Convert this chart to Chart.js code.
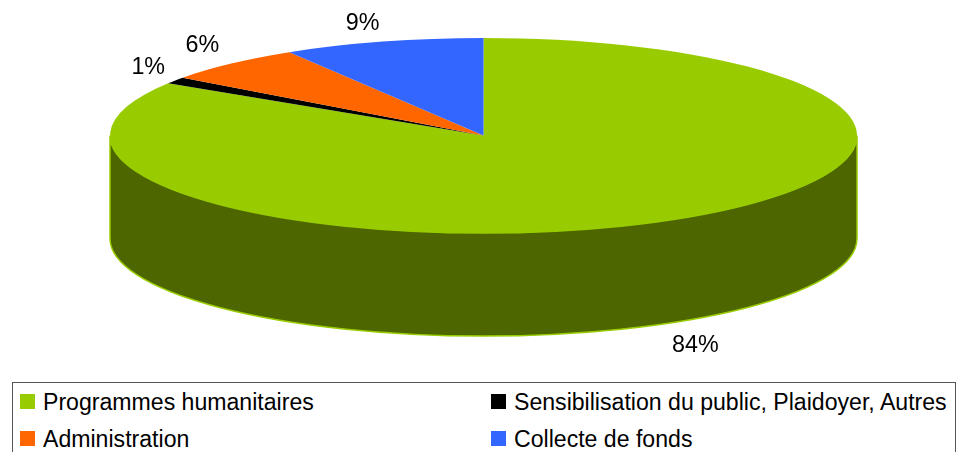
<!DOCTYPE html>
<html>
<head>
<meta charset="utf-8">
<script src="https://cdn.jsdelivr.net/npm/chart.js@4"></script>
<style>
    html, body { margin: 0; padding: 0; width: 959px; height: 452px; overflow: hidden; background: #fff; }
    #wrap { position: absolute; left: 0; top: 0; width: 959px; height: 380px; }
    #legend {
        position: absolute; left: 12px; top: 382px; width: 944px; height: 80px;
        border: 1px solid #555; box-sizing: border-box;
        font: 23.1px "Liberation Sans", Arial, sans-serif; color: #000;
    }
    #legend .item { position: absolute; white-space: nowrap; line-height: 26px; }
    #legend .box { display: inline-block; width: 15px; height: 15px; position: absolute; left: 0; top: 6px; }
    #legend .txt { position: absolute; left: 23px; top: 1px; }
</style>
</head>
<body>
<div id="wrap"><canvas id="pie"></canvas></div>
<div id="legend"></div>
<script>
// Data
const categories = ['Programmes humanitaires', 'Sensibilisation du public, Plaidoyer, Autres', 'Administration', 'Collecte de fonds'];
const shares = [84, 1.1, 6.2, 8.7];
const sliceColors = ['#99cc00', '#000000', '#ff6600', '#3366ff'];
const wallColors = ['#4d6600', '#000000', '#803300', '#1a3380'];

// Tilted pie geometry, in pixels
const RX = 373.5, RY = 97.5, CY = 135.5, DEPTH = 103;
const SQUASH = RY / RX;
// label offset from the rim point of each slice
const labelOffsets = [[32, 125], [-27, -13], [-29, -18], [-20, -18]];

function drawWalls(ctx, arcs) {
    arcs.forEach((arc, i) => {
        const a0 = Math.max(arc.startAngle, 0);
        const a1 = Math.min(arc.endAngle, Math.PI);
        if (a1 <= a0) return;
        ctx.beginPath();
        ctx.ellipse(arc.x, CY, RX, RY, 0, a0, a1);
        ctx.ellipse(arc.x, CY + DEPTH, RX, RY, 0, a1, a0, true);
        ctx.closePath();
        ctx.fillStyle = wallColors[i];
        ctx.fill();
        ctx.strokeStyle = sliceColors[i];
        ctx.lineWidth = 1.5;
        ctx.stroke();
    });
}

// Chart.js only draws round pies, so squash the drawing and add the side wall
const tiltPlugin = {
    id: 'tilt',
    beforeDatasetsDraw(chart) {
        const ctx = chart.ctx;
        const arcs = chart.getDatasetMeta(0).data;
        drawWalls(ctx, arcs);
        ctx.save();
        ctx.translate(0, CY);
        ctx.scale(1, SQUASH);
        ctx.translate(0, -arcs[0].y);
    },
    afterDatasetsDraw(chart) {
        const ctx = chart.ctx;
        ctx.restore();
        ctx.fillStyle = '#000';
        ctx.font = '23.3px "Liberation Sans", Arial, sans-serif';
        ctx.textAlign = 'center';
        ctx.textBaseline = 'middle';
        chart.getDatasetMeta(0).data.forEach((arc, i) => {
            const mid = (arc.startAngle + arc.endAngle) / 2;
            const x = arc.x + Math.cos(mid) * RX + labelOffsets[i][0];
            const y = CY + Math.sin(mid) * RY + labelOffsets[i][1];
            ctx.fillText(Math.round(shares[i]) + '%', x, y);
        });
    }
};

new Chart(document.getElementById('pie'), {
    type: 'pie',
    data: {
        labels: categories,
        datasets: [{
            data: shares,
            backgroundColor: sliceColors,
            borderWidth: 0,
            radius: RX,
            clip: false
        }]
    },
    options: {
        responsive: true,
        maintainAspectRatio: false,
        animation: false,
        events: [],
        layout: { padding: { left: 8 } },
        plugins: { legend: { display: false }, tooltip: { enabled: false } }
    },
    plugins: [tiltPlugin]
});

// --- Legend: two columns, filled row by row ---
const legend = document.getElementById('legend');
categories.forEach((name, i) => {
    const item = document.createElement('div');
    item.className = 'item';
    item.style.left = (i % 2 ? 478 : 7) + 'px';
    item.style.top = (i < 2 ? 5 : 42) + 'px';
    const box = document.createElement('span');
    box.className = 'box';
    box.style.background = sliceColors[i];
    const txt = document.createElement('span');
    txt.className = 'txt';
    txt.textContent = name;
    item.append(box, txt);
    legend.appendChild(item);
});
</script>
</body>
</html>
